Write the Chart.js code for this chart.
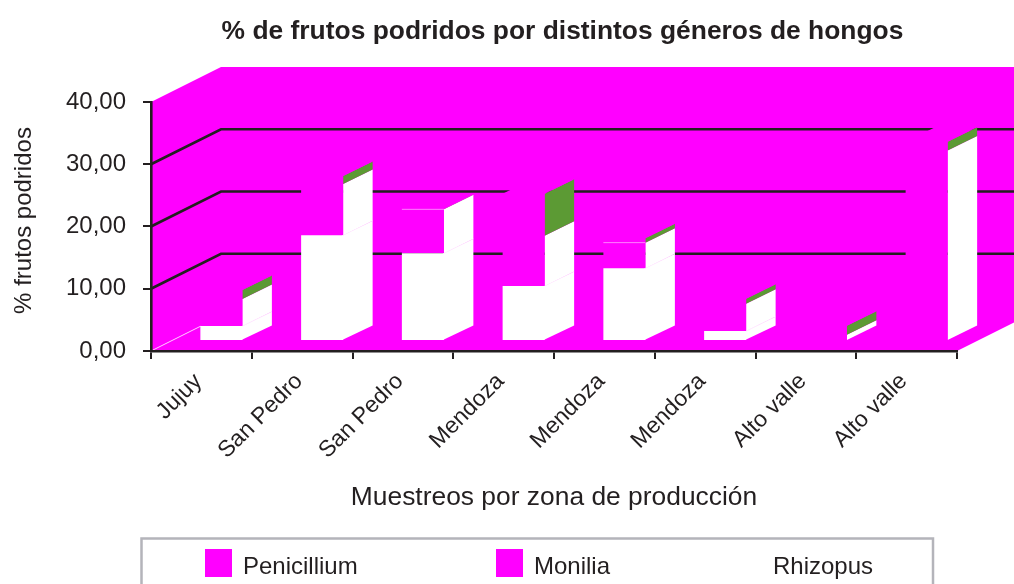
<!DOCTYPE html>
<html>
<head>
<meta charset="utf-8">
<style>
  html, body { margin: 0; padding: 0; background: #fff; overflow: hidden; }
  canvas { display: block; }
</style>
</head>
<body>
<canvas id="myChart" width="1014" height="584"></canvas>
<script src="https://cdn.jsdelivr.net/npm/chart.js@4"></script>
<script>
const zonas = ['Jujuy', 'San Pedro', 'San Pedro', 'Mendoza', 'Mendoza', 'Mendoza', 'Alto valle', 'Alto valle'];
const penicillium = [2.4, 17.0, 14.1, 8.85, 11.7, 1.6, 0, 0];
const monilia = [4.35, 8.2, 7.05, 8.05, 4.1, 4.4, 1.0, 30.6];
const rhizopus = [1.45, 1.3, 0.05, 6.75, 0.7, 0.8, 1.45, 1.4];
const yTickLabels = ['0,00', '10,00', '20,00', '30,00', '40,00'];

const MAGENTA = '#ff00ff';
const PALE = '#ffd0ff';
const GREEN = '#5c9a34';
const INK = '#231f20';
const FONT = '"Liberation Sans", Arial, sans-serif';

// profundidad del grafico 3D
const DEPTH_X = 70, DEPTH_Y = -35;
const GAP_X = 20, GAP_Y = -10;
const SIDE_X = 29.5, SIDE_Y = -14.5;

const sideColors = ['#ffffff', '#ffffff', GREEN];

function poly(ctx, pts, fill) {
  ctx.beginPath();
  pts.forEach((p, i) => i ? ctx.lineTo(p[0], p[1]) : ctx.moveTo(p[0], p[1]));
  ctx.closePath();
  ctx.fillStyle = fill;
  ctx.fill();
}

function line(ctx, pts, color, width) {
  ctx.beginPath();
  pts.forEach((p, i) => i ? ctx.lineTo(p[0], p[1]) : ctx.moveTo(p[0], p[1]));
  ctx.strokeStyle = color;
  ctx.lineWidth = width;
  ctx.stroke();
}

const walls = {
  id: 'walls',
  afterLayout(chart) {
    // el titulo va centrado un poco a la derecha del area
    chart.titleBlock.left += 8.5;
    chart.titleBlock.right += 8.5;
  },
  beforeDraw(chart) {
    const { ctx, chartArea: a, scales: { y } } = chart;
    const w = chart.width;
    const y0 = y.getPixelForValue(0);
    const yMax = y.getPixelForValue(40);
    const slope = DEPTH_Y / DEPTH_X;
    ctx.save();
    poly(ctx, [
      [a.left, yMax], [a.left + DEPTH_X, yMax + DEPTH_Y], [w, yMax + DEPTH_Y],
      [w, y0 + (w - a.right) * slope], [a.right, y0], [a.left, y0]
    ], MAGENTA);
    // borde pared-piso
    line(ctx, [[a.left, y0], [a.left + DEPTH_X, y0 + DEPTH_Y]], PALE, 1);
    [10, 20, 30].forEach(v => {
      const py = y.getPixelForValue(v);
      line(ctx, [[a.left, py], [a.left + DEPTH_X, py + DEPTH_Y], [w, py + DEPTH_Y]], INK, 2.6);
    });
    ctx.restore();
  },
  beforeDatasetsDraw(chart) {
    const { ctx } = chart;
    const count = chart.data.datasets.length;
    ctx.save();
    chart.data.datasets.forEach((ds, i) => {
      chart.getDatasetMeta(i).data.forEach((bar, j) => {
        const xr = bar.x + bar.width / 2 + GAP_X;
        const xl = bar.x - bar.width / 2 + GAP_X;
        const top = bar.y + GAP_Y;
        const base = bar.base + GAP_Y;
        // el blanco se mete 1px bajo la cara frontal para que no quede costura
        const xs = i === 0 && ds.data[j] > 0 ? xr - 1 : xr;
        poly(ctx, [
          [xs, base], [xr + SIDE_X, base + SIDE_Y], [xr + SIDE_X, top + SIDE_Y], [xs, top]
        ], sideColors[i]);
        if (i === 0 && ds.data[j] > 0) {
          line(ctx, [[xr, top], [xr + SIDE_X, top + SIDE_Y]], PALE, 0.6);
        }
        if (i === count - 1) {
          poly(ctx, [
            [xl, top], [xr, top], [xr + SIDE_X, top + SIDE_Y], [xl + SIDE_X, top + SIDE_Y]
          ], MAGENTA);
        }
      });
    });
    // las caras frontales las dibuja Chart.js, corridas hacia el fondo
    ctx.translate(GAP_X, GAP_Y);
  },
  afterDatasetsDraw(chart) {
    const { ctx } = chart;
    // filo claro arriba de monilia cuando rhizopus casi no se ve
    chart.getDatasetMeta(1).data.forEach((bar, j) => {
      if (rhizopus[j] <= 0.7) {
        const hw = bar.width / 2;
        line(ctx, [[bar.x - hw, bar.y], [bar.x + hw, bar.y]], '#ff80ff', 1);
      }
    });
    ctx.restore();
  },
  afterDraw(chart) {
    const { ctx } = chart;
    const swatchX = [205, 496, 735];
    ctx.save();
    ctx.strokeStyle = '#b4b4ba';
    ctx.lineWidth = 2.5;
    ctx.strokeRect(141.5, 538.5, 791.5, 60);
    ctx.font = '24px ' + FONT;
    ctx.textBaseline = 'middle';
    chart.data.datasets.forEach((ds, i) => {
      ctx.fillStyle = ds.legendColor;
      ctx.fillRect(swatchX[i], 549, 27, 28);
      ctx.fillStyle = INK;
      ctx.fillText(ds.label, swatchX[i] + 38, 567);
    });
    // titulo del eje y, va mas arriba que el centro del area
    ctx.translate(24, 220.5);
    ctx.rotate(-Math.PI / 2);
    ctx.textAlign = 'center';
    ctx.fillText('% frutos podridos', 0, 0);
    ctx.restore();
  }
};

new Chart(document.getElementById('myChart'), {
  type: 'bar',
  data: {
    labels: zonas,
    datasets: [
      { label: 'Penicillium', data: penicillium, backgroundColor: '#ffffff', legendColor: MAGENTA },
      { label: 'Monilia', data: monilia, backgroundColor: MAGENTA, legendColor: MAGENTA },
      { label: 'Rhizopus', data: rhizopus, backgroundColor: MAGENTA, legendColor: '#ffffff' }
    ]
  },
  options: {
    responsive: false,
    animation: false,
    layout: { padding: { left: 0, right: 57, top: 0, bottom: 0 } },
    datasets: { bar: { categoryPercentage: 1, barPercentage: 0.417, clip: false, borderWidth: 0 } },
    plugins: {
      legend: { display: false },
      tooltip: { enabled: false },
      title: {
        display: true,
        text: '% de frutos podridos por distintos géneros de hongos',
        fullSize: false,
        color: INK,
        font: { family: FONT, size: 26.4, weight: 'bold', lineHeight: 1.2 },
        padding: { top: 16, bottom: 54.3 }
      }
    },
    scales: {
      x: {
        stacked: true,
        afterFit(scale) { scale.height = 233; },
        border: { color: INK, width: 2.6 },
        grid: { display: true, offset: true, drawOnChartArea: false, drawTicks: true, tickLength: 8, color: INK, lineWidth: 2 },
        ticks: { autoSkip: false, minRotation: 45, maxRotation: 45, color: INK, padding: 9, labelOffset: -3, font: { family: FONT, size: 23 } },
        title: {
          display: true,
          text: 'Muestreos por zona de producción',
          color: INK,
          font: { family: FONT, size: 26.4, lineHeight: 1.2 },
          padding: { top: 0, bottom: 70 }
        }
      },
      y: {
        stacked: true,
        min: 0,
        max: 40,
        afterFit(scale) { scale.width = 151; },
        border: { color: INK, width: 2.6 },
        grid: { display: true, drawOnChartArea: false, drawTicks: true, tickLength: 8, color: INK, lineWidth: 2 },
        ticks: {
          stepSize: 10,
          color: INK,
          padding: 17,
          font: { family: FONT, size: 24 },
          callback: (v, i) => yTickLabels[i]
        }
      }
    }
  },
  plugins: [walls]
});
</script>
</body>
</html>
